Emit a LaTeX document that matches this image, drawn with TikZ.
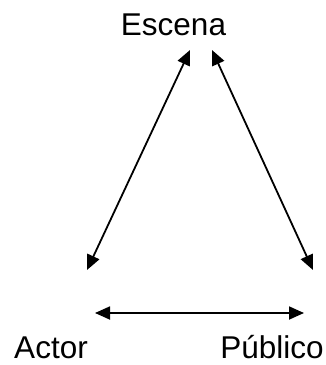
\documentclass[tikz,border=0pt]{standalone}
\usepackage{fontspec}
\setmainfont{Liberation Sans}
\usetikzlibrary{arrows.meta}
\begin{document}
\begin{tikzpicture}[x=1pt,y=-1pt,
  lbl/.style={font=\fontsize{31.5}{36}\selectfont, inner sep=0pt, anchor=base},
  dbl/.style={line width=1.8pt, {Triangle[length=15pt,width=13pt]}-{Triangle[length=15pt,width=13pt]}}]
\useasboundingbox (0,0) rectangle (326,365);
\node[lbl] (escena) at (173.5,35) {Escena};
\node[lbl] (actor) at (51,358) {Actor};
\node[lbl] (publico) at (272,358) {Público};
\coordinate (a1) at (190,50);
\coordinate (a2) at (87,270);
\coordinate (b1) at (212,50);
\coordinate (b2) at (313,270);
\coordinate (c1) at (95,313);
\coordinate (c2) at (304,313);
\draw[dbl] (a1) -- (a2);
\draw[dbl] (b1) -- (b2);
\draw[dbl] (c1) -- (c2);
\end{tikzpicture}
\end{document}
